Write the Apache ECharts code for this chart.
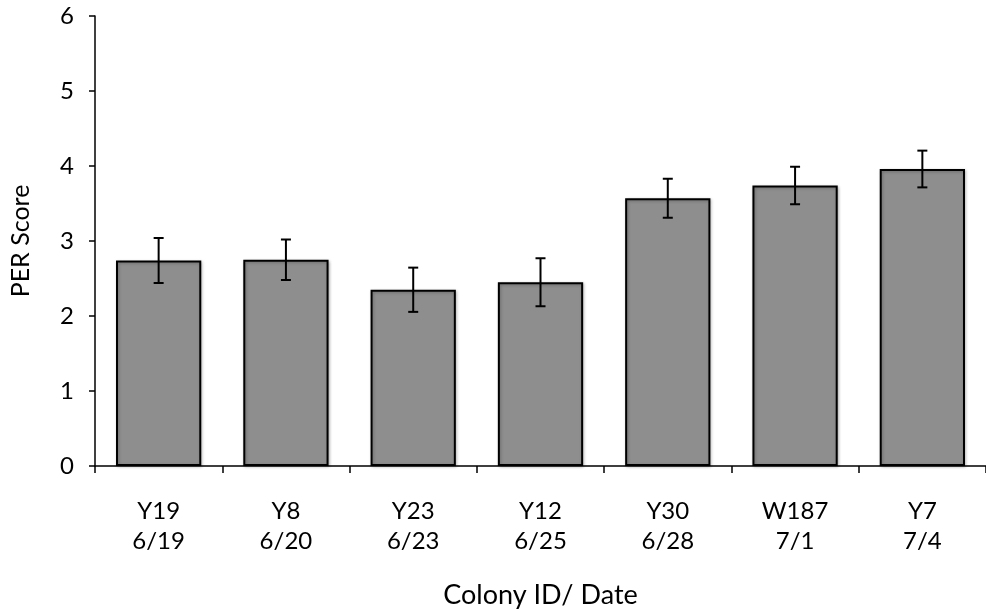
<!DOCTYPE html>
<html>
<head>
<meta charset="utf-8">
<script src="https://cdn.jsdelivr.net/npm/echarts@6/dist/echarts.min.js"></script>
<style>
  html, body { margin: 0; padding: 0; background: #fff; }
  #chart { width: 986px; height: 614px; }
</style>
</head>
<body>
<div id="chart"></div>
<script>
// Colony IDs and observation dates
const colonies = ['Y19', 'Y8', 'Y23', 'Y12', 'Y30', 'W187', 'Y7'];
const dates = ['6/19', '6/20', '6/23', '6/25', '6/28', '7/1', '7/4'];
// Mean PER score per colony and its error (±)
const perMean = [2.74, 2.75, 2.35, 2.45, 3.57, 3.74, 3.96];
const perErr = [0.30, 0.27, 0.295, 0.32, 0.26, 0.25, 0.245];
// Y axis ticks
const yTicks = [0, 1, 2, 3, 4, 5, 6];

const categories = colonies.map((c, i) => c + '\n' + dates[i]);
const errData = perMean.map((m, i) => [i, m - perErr[i], m + perErr[i]]);

const FONT = 'Lato';
const chart = echarts.init(document.getElementById('chart'), null, { renderer: 'canvas' });

chart.setOption({
  animation: false,
  backgroundColor: '#fff',
  grid: { left: 95, top: 16, width: 899, height: 451, containLabel: false },
  xAxis: {
    type: 'category',
    data: categories,
    name: 'Colony ID/ Date',
    nameLocation: 'middle',
    nameGap: 116,
    nameTextStyle: { fontFamily: FONT, fontSize: 27, color: '#000' },
    axisLine: { lineStyle: { color: '#000', width: 1.5 } },
    axisTick: { show: true, length: 7, lineStyle: { color: '#000', width: 1.5 } },
    axisLabel: { fontFamily: FONT, fontSize: 24, color: '#000', margin: 30, lineHeight: 30 },
    splitLine: { show: false }
  },
  yAxis: {
    type: 'value',
    min: yTicks[0],
    max: yTicks[yTicks.length - 1],
    interval: 1,
    name: 'PER Score',
    nameLocation: 'middle',
    nameGap: 62,
    nameTextStyle: { fontFamily: FONT, fontSize: 25, color: '#000' },
    axisLine: { show: true, lineStyle: { color: '#000', width: 1.5 } },
    axisTick: { show: true, length: 6, lineStyle: { color: '#000', width: 1.5 } },
    axisLabel: { fontFamily: FONT, fontSize: 24, color: '#000', margin: 21 },
    splitLine: { show: false }
  },
  series: [
    {
      type: 'bar',
      data: perMean,
      barCategoryGap: '33%',
      itemStyle: {
        color: '#8e8e8e',
        borderColor: '#000',
        borderWidth: 2,
        shadowBlur: 3,
        shadowColor: 'rgba(0,0,0,0.25)',
        shadowOffsetX: 1,
        shadowOffsetY: 1
      },
      z: 2
    },
    {
      type: 'custom',
      data: errData,
      z: 3,
      renderItem: function (params, api) {
        const x = api.value(0);
        const lo = api.coord([x, api.value(1)]);
        const hi = api.coord([x, api.value(2)]);
        const half = 5;
        const style = { stroke: '#000', lineWidth: 2 };
        return {
          type: 'group',
          children: [
            { type: 'line', shape: { x1: lo[0], y1: lo[1], x2: hi[0], y2: hi[1] }, style: style },
            { type: 'line', shape: { x1: hi[0] - half, y1: hi[1], x2: hi[0] + half, y2: hi[1] }, style: style },
            { type: 'line', shape: { x1: lo[0] - half, y1: lo[1], x2: lo[0] + half, y2: lo[1] }, style: style }
          ]
        };
      }
    }
  ]
});
</script>
</body>
</html>
